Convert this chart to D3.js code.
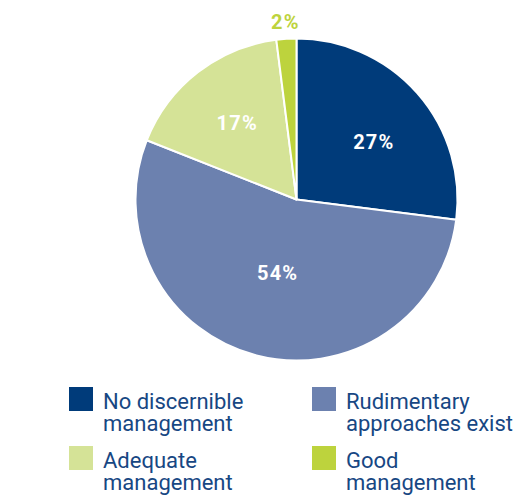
<!DOCTYPE html>
<html>
<head>
<meta charset="utf-8">
<script src="https://cdn.jsdelivr.net/npm/d3@7"></script>
<style>
  html, body { margin: 0; padding: 0; background: #ffffff; }
  svg { display: block; font-family: Roboto, "Noto Sans", sans-serif; }
</style>
</head>
<body>
<svg id="chart" width="515" height="495"></svg>
<script>
// Share of assessed sites by management level
const categories = ["No discernible management", "Rudimentary approaches exist", "Adequate management", "Good management"];
const values = [27, 54, 17, 2];
const colors = ["#003b7a", "#6c81af", "#d5e397", "#bdd33d"];
const legendLines = [
  ["No discernible", "management"],
  ["Rudimentary", "approaches exist"],
  ["Adequate", "management"],
  ["Good", "management"]
];

const svg = d3.select("#chart");
const cx = 296.5, cy = 199.5, R = 161;

const pie = d3.pie().sort(null).value(d => d)(values);
const arc = d3.arc().innerRadius(0).outerRadius(R);
const color = d3.scaleOrdinal().domain(categories).range(colors);

const g = svg.append("g").attr("transform", `translate(${cx},${cy})`);

g.selectAll("path.slice")
  .data(pie)
  .join("path")
  .attr("class", "slice")
  .attr("d", arc)
  .attr("fill", (d, i) => color(categories[i]))
  .attr("stroke", "#ffffff")
  .attr("stroke-width", 2)
  .attr("stroke-linejoin", "round");

// Percentage labels: inside for larger slices, outside for tiny ones
function labelRadius(d) {
  const span = d.endAngle - d.startAngle;
  if (span < 0.2) return R + 17;
  if (span > Math.PI) return R * 0.47;
  return R * 0.6;
}
function labelAngle(d) {
  const span = d.endAngle - d.startAngle;
  const mid = (d.startAngle + d.endAngle) / 2;
  // nudge the first-quadrant label a little clockwise
  return span > 1.5 && span < 2 ? mid + 0.08 : mid;
}
g.selectAll("text.pct")
  .data(pie)
  .join("text")
  .attr("class", "pct")
  .attr("transform", d => {
    const a = labelAngle(d);
    const r = labelRadius(d);
    return `translate(${Math.sin(a) * r},${-Math.cos(a) * r})`;
  })
  .attr("text-anchor", "middle")
  .attr("dy", "0.36em")
  .attr("font-size", 20)
  .attr("font-weight", 700)
  .attr("letter-spacing", "1.2px")
  .attr("fill", (d, i) => (d.endAngle - d.startAngle) < 0.2 ? color(categories[i]) : "#ffffff")
  .text(d => d.data + "%");

// Legend: two columns, two rows
const legendX = [69, 312];
const legendY = [387, 446];
const legend = svg.selectAll("g.legend")
  .data(categories)
  .join("g")
  .attr("class", "legend")
  .attr("transform", (d, i) => `translate(${legendX[i % 2]},${legendY[Math.floor(i / 2)]})`);

legend.append("rect")
  .attr("width", 24)
  .attr("height", 24)
  .attr("fill", d => color(d));

legend.append("text")
  .attr("x", 34)
  .attr("y", 22)
  .attr("font-size", 22)
  .attr("fill", "#174783")
  .selectAll("tspan")
  .data((d, i) => legendLines[i])
  .join("tspan")
  .attr("x", 34)
  .attr("dy", (d, j) => j === 0 ? 0 : 22)
  .text(d => d);
</script>
</body>
</html>
